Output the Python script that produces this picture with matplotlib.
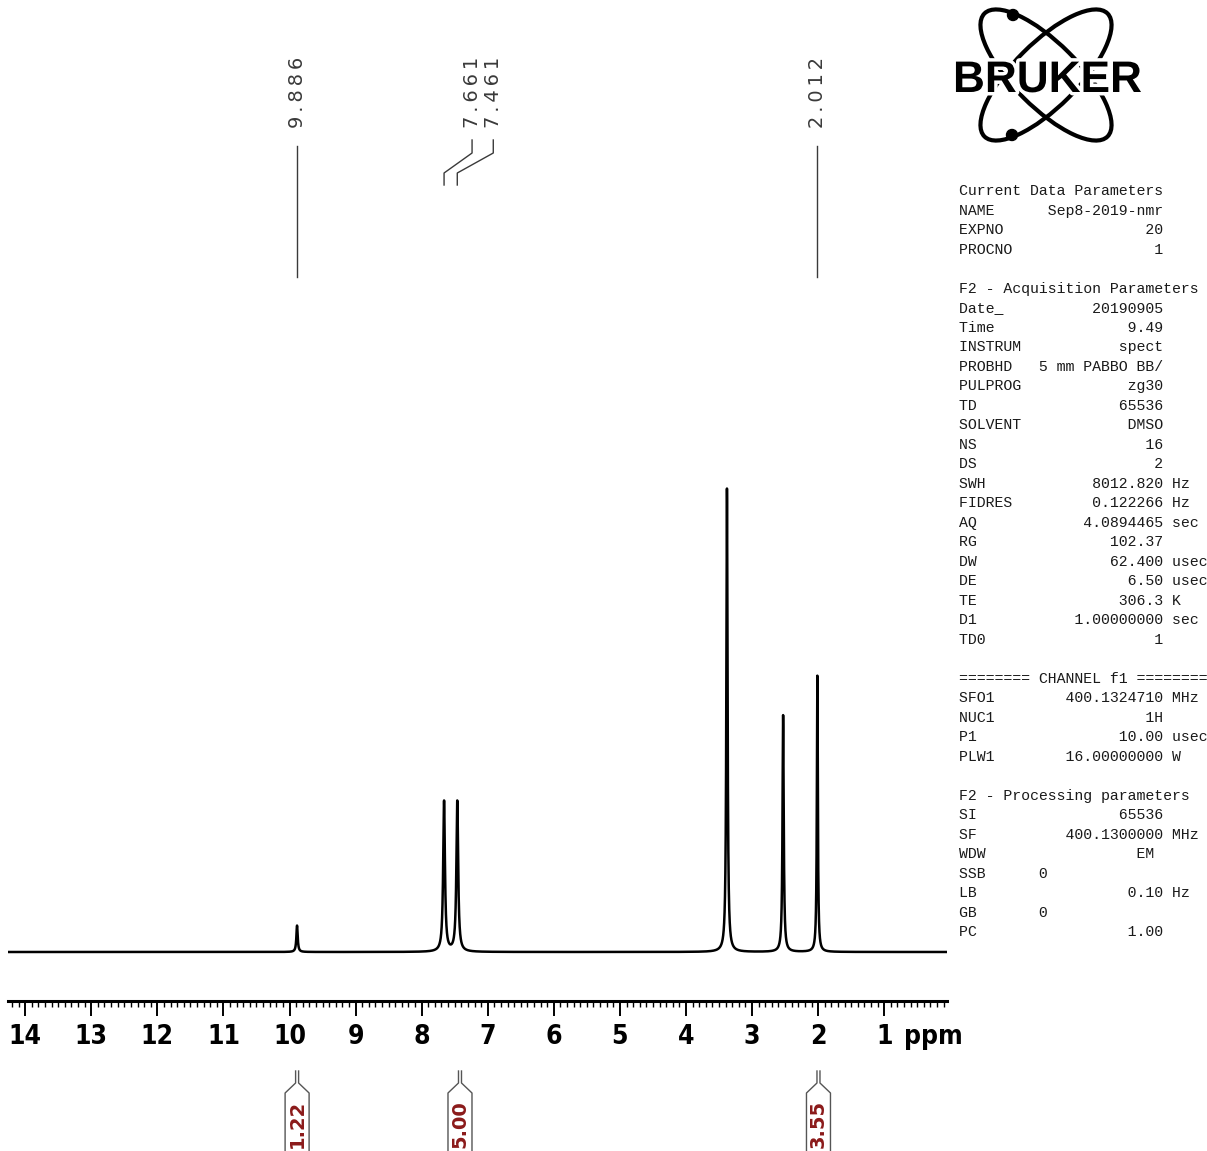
"""1H NMR spectrum, plotted in the Bruker TopSpin print layout."""

import numpy as np
import matplotlib

matplotlib.use("Agg")
import matplotlib.pyplot as plt
from matplotlib import patheffects
from matplotlib.font_manager import FontProperties
from matplotlib.patches import Circle, Ellipse
from matplotlib.ticker import MultipleLocator

# peaks: shift (ppm), height (water line = 100), half width at half height (ppm)
peak_ppm = [9.886, 7.661, 7.461, 3.38, 2.53, 2.012]
peak_height = [5.7, 32.5, 32.5, 100.0, 51.1, 59.6]
peak_hwhm = [0.012, 0.016, 0.016, 0.011, 0.011, 0.009]

# picked peaks shown above the spectrum
label_ppm = [9.886, 7.661, 7.461, 2.012]

# integral regions and their normalised values
integral_from = [9.97, 7.80, 2.09]
integral_to = [9.80, 7.04, 1.90]
integral_value = [1.22, 5.00, 3.55]

ppm_ticks = list(range(1, 15))
ppm_lim = (14.26, 0.05)

current_params = [
    ("NAME", "Sep8-2019-nmr", ""),
    ("EXPNO", "20", ""),
    ("PROCNO", "1", ""),
]
acq_params = [
    ("Date_", "20190905", ""),
    ("Time", "9.49", ""),
    ("INSTRUM", "spect", ""),
    ("PROBHD", "5 mm PABBO BB/", ""),
    ("PULPROG", "zg30", ""),
    ("TD", "65536", ""),
    ("SOLVENT", "DMSO", ""),
    ("NS", "16", ""),
    ("DS", "2", ""),
    ("SWH", "8012.820", "Hz"),
    ("FIDRES", "0.122266", "Hz"),
    ("AQ", "4.0894465", "sec"),
    ("RG", "102.37", ""),
    ("DW", "62.400", "usec"),
    ("DE", "6.50", "usec"),
    ("TE", "306.3", "K"),
    ("D1", "1.00000000", "sec"),
    ("TD0", "1", ""),
]
channel_params = [
    ("SFO1", "400.1324710", "MHz"),
    ("NUC1", "1H", ""),
    ("P1", "10.00", "usec"),
    ("PLW1", "16.00000000", "W"),
]
proc_params = [
    ("SI", "65536", ""),
    ("SF", "400.1300000", "MHz"),
    ("WDW", "EM ", ""),
    ("SSB", "0", ""),
    ("LB", "0.10", "Hz"),
    ("GB", "0", ""),
    ("PC", "1.00", ""),
]

W, H = 1207, 1151
PX = 4.634  # pixels per unit of intensity

ppm = np.linspace(ppm_lim[0], ppm_lim[1], 30000)
spec = np.zeros_like(ppm)
for p, h, w in zip(peak_ppm, peak_height, peak_hwhm):
    spec += h / (1 + ((ppm - p) / w) ** 2)

fig = plt.figure(figsize=(W / 100, H / 100), dpi=100, facecolor="white")

# spectrum axes: bottom spine is the ppm scale
ax = fig.add_axes([8 / W, (H - 1001) / H, 939 / W, 1001 / H])
ax.plot(ppm, spec, color="black", lw=1.8)
ax.set_xlim(*ppm_lim)
ax.set_ylim(-49 / PX, 952 / PX)
for side in ("top", "left", "right"):
    ax.spines[side].set_visible(False)
ax.spines["bottom"].set_linewidth(2.2)
ax.set_yticks([])
ax.set_xticks(ppm_ticks)
ax.xaxis.set_minor_locator(MultipleLocator(0.1))
ax.tick_params(axis="x", which="major", direction="out", length=10.8, width=1.4, pad=6)
ax.tick_params(axis="x", which="minor", direction="out", length=4.3, width=1.0)
tick_font = FontProperties(family="DejaVu Sans", stretch="condensed", weight="bold", size=19)
ax.set_xticklabels([str(t) for t in ppm_ticks], fontproperties=tick_font)

# overlay in figure pixels (y down) for annotations, logo and parameter list
ov = fig.add_axes([0, 0, 1, 1])
ov.set_xlim(0, W)
ov.set_ylim(H, 0)
ov.set_axis_off()


def ppm_to_px(v):
    return ax.transData.transform((v, 0))[0]


ov.text(904, 1037, "ppm", fontproperties=tick_font, ha="left", va="center")

# peak labels with leaders
label_shift = [0, 28, 36, 0]
for p, dx in zip(label_ppm, label_shift):
    xp = ppm_to_px(p)
    xl = xp + dx
    ov.text(xl, 92, "\u2009".join(f"{p:.3f}"), rotation=90, ha="center", va="center",
            fontsize=14, color="#3a3a3a")
    if dx == 0:
        ov.plot([xp, xp], [146, 277], color="#3a3a3a", lw=1)
    else:
        ov.plot([xl, xl, xp, xp], [140, 153, 173, 185], color="#3a3a3a", lw=1)

# integrals under the scale
for a, b, v in zip(integral_from, integral_to, integral_value):
    cx = ppm_to_px((a + b) / 2)
    for s in (-1, 1):
        ov.plot([cx + 1.5 * s, cx + 1.5 * s, cx + 12 * s, cx + 12 * s],
                [1071, 1083, 1093, H], color="#555555", lw=1)
    ov.text(cx, 1124, f"{v:.2f}", rotation=90, ha="center", va="center",
            fontsize=14, fontweight="bold", color="#8b1a1a")

# Bruker logo
logo_c = (1046, 75)
for ang in (45, -45):
    ov.add_patch(Ellipse(logo_c, 174, 64, angle=ang, fill=False, lw=3, ec="black"))
for xy in [(1013, 15), (1012, 135)]:
    ov.add_patch(Circle(xy, 5.5, color="black"))
ov.text(953, 92, "BRUKER", family="Liberation Sans", fontweight="bold", fontsize=31.8,
        ha="left", va="baseline", zorder=4,
        path_effects=[patheffects.withStroke(linewidth=5, foreground="white")])


# acquisition / processing parameter listing
def param_line(name, value, unit):
    if name in ("SSB", "GB"):
        return f"{name:<9}{value}"
    s = f"{name:<8}{value:>15}"
    return s + (" " + unit if unit else "")


lines = ["Current Data Parameters"] + [param_line(*r) for r in current_params] + [None]
lines += ["F2 - Acquisition Parameters"] + [param_line(*r) for r in acq_params] + [None]
lines += ["======== CHANNEL f1 ========"] + [param_line(*r) for r in channel_params] + [None]
lines += ["F2 - Processing parameters"] + [param_line(*r) for r in proc_params]

mono = FontProperties(family="Liberation Mono", size=10.7)
for i, line in enumerate(lines):
    if line is None:
        continue
    ov.text(959, 191 + 19.5 * i, line, fontproperties=mono, ha="left", va="center", color="#1a1a1a")

fig.savefig("out.png", dpi=100, facecolor="white")
